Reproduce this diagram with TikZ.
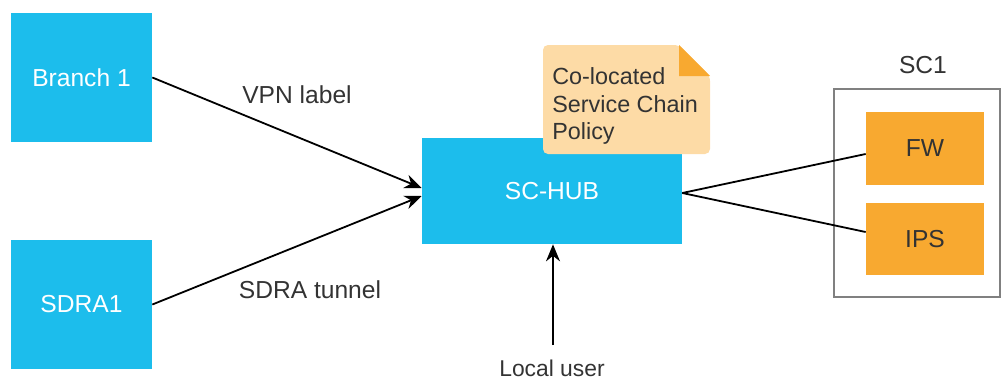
\documentclass[tikz,border=0pt]{standalone}
\usepackage{fontspec}
\setmainfont{Liberation Sans}
\usetikzlibrary{arrows.meta}
\usetikzlibrary{positioning}
\definecolor{hubblue}{RGB}{28,189,236}
\definecolor{chainorange}{RGB}{248,169,48}
\definecolor{notefill}{RGB}{253,219,166}
\definecolor{boxgray}{RGB}{128,128,128}
\definecolor{textgray}{RGB}{51,51,51}

\tikzset{
	site/.style={rectangle, fill=hubblue, text=white, inner sep=0pt},
	func/.style={rectangle, fill=chainorange, text=textgray, minimum width=2.36cm, minimum height=1.46cm, inner sep=0pt},
	lbl/.style={text=textgray, inner sep=0pt},
	link/.style={line width=0.036cm, draw=black},
	flow/.style={link, -{Stealth[length=0.34cm, width=0.28cm]}}
}

\begin{document}
\begin{tikzpicture}[x=0.02cm, y=-0.02cm, font=\fontsize{14pt}{17pt}\selectfont]
		\useasboundingbox (0,0) rectangle (1002,379);

		% Sites and hub
		\node (branch) at (81.5,77.5) [site, minimum width=2.82cm, minimum height=2.58cm] {Branch 1};
		\node (sdra) at (81.5,304.5) [site, minimum width=2.82cm, minimum height=2.58cm] {SDRA1};
		\node (hub) at (552,191) [site, minimum width=5.2cm, minimum height=2.12cm] {SC-HUB};

		% Policy note with folded corner
		\fill[notefill, rounded corners=0.1cm] (543,45) -- (679,45) -- (710,76) -- (710,154) -- (543,154) -- cycle;
		\fill[chainorange] (679,45) -- (710,76) -- (679,76) -- cycle;
		\node (policy) at (552,106) [lbl, anchor=west, align=left, font=\fontsize{13.3pt}{15.6pt}\selectfont] {Co-located\\Service Chain\\Policy};

		% Service chain SC1
		\draw[boxgray, line width=0.04cm] (834,89) rectangle (1000,297);
		\node (sc1) at (923,65) [lbl] {SC1};
		\node (fw) at (925,148.5) [func] {FW};
		\node (ips) at (925,239) [func] {IPS};

		% Local user
		\node (user) at (552,368) [lbl, font=\fontsize{13pt}{15pt}\selectfont] {Local user};
		\coordinate (userend) at (553,345);

		% Connectors
		\draw[flow] (branch.east) -- ([yshift=0.06cm]hub.west);
		\node (vpn) at (297,95) [lbl] {VPN label};
		\draw[flow] (sdra.east) -- ([yshift=-0.1cm]hub.west);
		\node (tunnel) at (310,290) [lbl] {SDRA tunnel};
		\draw[flow] (userend) -- (hub.south -| userend);
		\draw[link] ([yshift=-0.04cm]hub.east) -- ([yshift=-0.11cm]fw.west);
		\draw[link] ([yshift=-0.04cm]hub.east) -- ([yshift=0.14cm]ips.west);
	\end{tikzpicture}
\end{document}
